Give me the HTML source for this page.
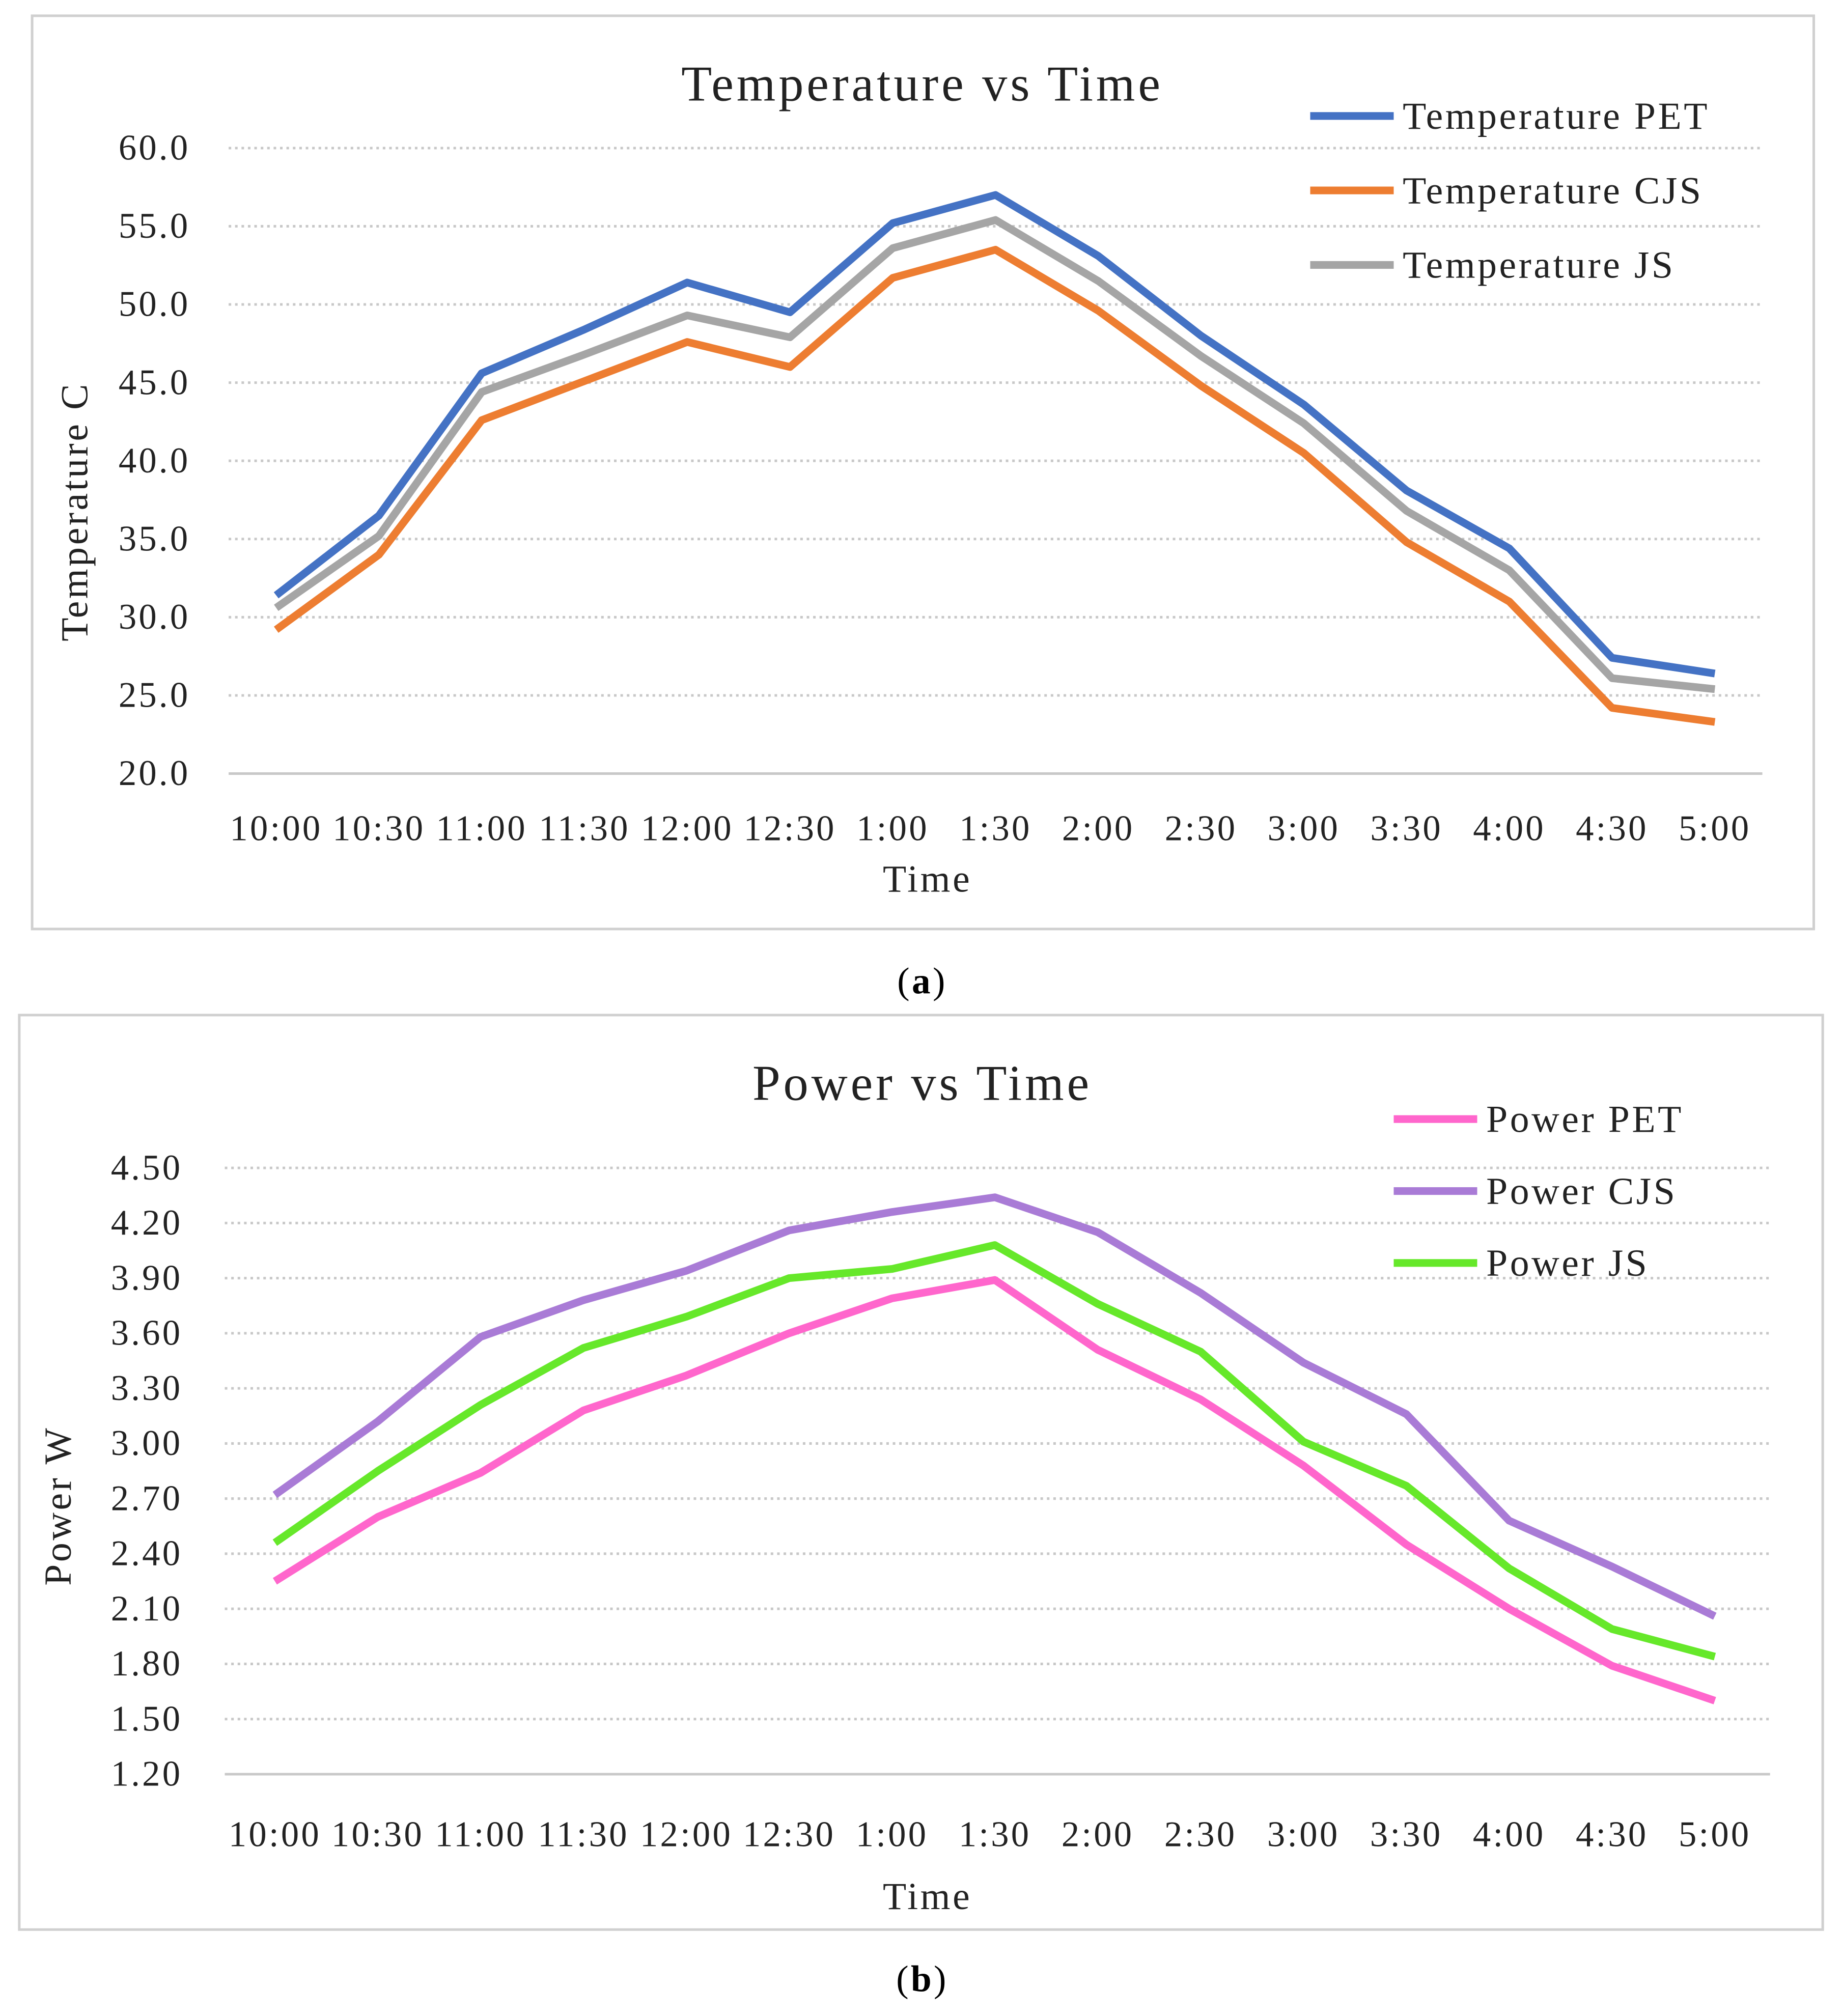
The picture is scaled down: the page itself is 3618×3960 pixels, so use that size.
<!DOCTYPE html>
<html><head><meta charset="utf-8"><style>
html,body{margin:0;padding:0;background:#fff;}
svg{display:block;font-family:"Liberation Serif",serif;}
svg text{letter-spacing:0.06em;}
</style></head><body>
<svg id="root" width="3618" height="3960" viewBox="0 0 1434 1569" xmlns="http://www.w3.org/2000/svg">
<rect x="0" y="0" width="1434" height="1569" fill="#fff"/>
<rect x="25" y="12" width="1387" height="711" fill="#fff" stroke="#d0d0d0" stroke-width="2"/>
<rect x="15" y="790" width="1404" height="712" fill="#fff" stroke="#d0d0d0" stroke-width="2"/>
<text x="718" y="773" font-size="29" text-anchor="middle">(<tspan font-weight="bold">a</tspan>)</text>
<text x="718" y="1550" font-size="29" text-anchor="middle">(<tspan font-weight="bold">b</tspan>)</text>
<g id="ga"></g><g id="gb"></g>
</svg>
<script>
const categories = ["10:00","10:30","11:00","11:30","12:00","12:30","1:00","1:30","2:00","2:30","3:00","3:30","4:00","4:30","5:00"];
const tempTicks = ["20.0","25.0","30.0","35.0","40.0","45.0","50.0","55.0","60.0"];
const tempPET = [31.4,36.5,45.6,48.4,51.4,49.5,55.2,57.0,53.1,48.0,43.6,38.1,34.4,27.4,26.4];
const tempCJS = [29.2,34.0,42.6,45.1,47.6,46.0,51.7,53.5,49.6,44.8,40.5,34.8,31.0,24.2,23.3];
const tempJS = [30.6,35.2,44.4,46.8,49.3,47.9,53.6,55.4,51.5,46.7,42.4,36.8,33.0,26.1,25.4];
const powerTicks = ["1.20","1.50","1.80","2.10","2.40","2.70","3.00","3.30","3.60","3.90","4.20","4.50"];
const powerPET = [2.25,2.60,2.84,3.18,3.37,3.60,3.79,3.89,3.51,3.24,2.88,2.45,2.10,1.79,1.60];
const powerCJS = [2.72,3.12,3.58,3.78,3.94,4.16,4.26,4.34,4.15,3.82,3.44,3.16,2.58,2.33,2.06];
const powerJS = [2.46,2.85,3.21,3.52,3.69,3.90,3.95,4.08,3.76,3.50,3.01,2.77,2.32,1.99,1.84];

const NS="http://www.w3.org/2000/svg";
function mk(parent,tag,attrs,text){const e=document.createElementNS(NS,tag);for(const k in attrs)e.setAttribute(k,attrs[k]);if(text!==undefined)e.textContent=text;parent.appendChild(e);return e;}

function chart(g,cfg){
  const ticks=cfg.ticks.map(Number);
  const ymin=ticks[0],ymax=ticks[ticks.length-1];
  const y=v=>cfg.yBot-(v-ymin)/(ymax-ymin)*(cfg.yBot-cfg.yTop);
  const x=i=>cfg.x0+i*(cfg.x1-cfg.x0)/(categories.length-1);
  const t=mk(g,'text',{x:718,y:cfg.titleY,'font-size':39,'text-anchor':'middle',fill:'#222'},cfg.title);
  
  
  cfg.ticks.forEach((lab,i)=>{
    const yy=y(ticks[i]);
    if(i>0){const gl=mk(g,'line',{x1:cfg.gx0,x2:cfg.gx1,y1:yy,y2:yy,stroke:'#c8c8c8','stroke-width':2,'stroke-dasharray':'2,3'});
    
    }
    const tl=mk(g,'text',{x:cfg.tickX,y:yy+9,'font-size':28,'text-anchor':'end',fill:'#222'},lab);
    
    
  });
  const ax=mk(g,'line',{x1:cfg.gx0,x2:cfg.gx1,y1:cfg.yBot,y2:cfg.yBot,stroke:'#c8c8c8','stroke-width':2});
  
  
  categories.forEach((c,i)=>{
    const xl=mk(g,'text',{x:x(i),y:cfg.xLabY,'font-size':28,'text-anchor':'middle',fill:'#222'},c);
    
    
  });
  const xt=mk(g,'text',{x:cfg.xTitleX,y:cfg.xTitleY,'font-size':30,'text-anchor':'middle',fill:'#222'},'Time');
  
  
  const yt=mk(g,'text',{x:0,y:0,'font-size':30,'text-anchor':'middle',fill:'#222',transform:`translate(${cfg.yTitleX},${cfg.yTitleY}) rotate(-90)`},cfg.yTitle);
  
  
  cfg.series.forEach((s,k)=>{
    const p=mk(g,'polyline',{points:s.data.map((v,i)=>x(i)+','+y(v)).join(' '),fill:'none',stroke:s.color,'stroke-width':6,'stroke-linejoin':'round'});
    
    
    const ly=cfg.legY+k*cfg.legDy;
    const ll=mk(g,'line',{x1:cfg.legX,x2:cfg.legX+65,y1:ly,y2:ly,stroke:s.color,'stroke-width':6});
    
    
    const lt=mk(g,'text',{x:cfg.legX+72,y:ly+10,'font-size':30,fill:'#222'},s.name);
    
    
  });
}
chart(document.getElementById('ga'),{title:'Temperature vs Time',titleY:78,ticks:tempTicks,yTop:115,yBot:602,x0:215,x1:1335,gx0:178,gx1:1372,tickX:148,xLabY:654,xTitleX:722,xTitleY:694,yTitle:'Temperature C',yTitleX:68,yTitleY:398,legX:1020,legY:90,legDy:58,
 series:[{name:'Temperature PET',data:tempPET,color:'#4472C4'},{name:'Temperature CJS',data:tempCJS,color:'#ED7D31'},{name:'Temperature JS',data:tempJS,color:'#A5A5A5'}]});
chart(document.getElementById('gb'),{title:'Power vs Time',titleY:856,ticks:powerTicks,yTop:909,yBot:1381,x0:214,x1:1335,gx0:175,gx1:1378,tickX:142,xLabY:1437,xTitleX:722,xTitleY:1486,yTitle:'Power W',yTitleX:55,yTitleY:1172,legX:1085,legY:871,legDy:56,
 series:[{name:'Power PET',data:powerPET,color:'#FF66CC'},{name:'Power CJS',data:powerCJS,color:'#A97BD6'},{name:'Power JS',data:powerJS,color:'#66E82A'}]});
</script>
</body></html>
